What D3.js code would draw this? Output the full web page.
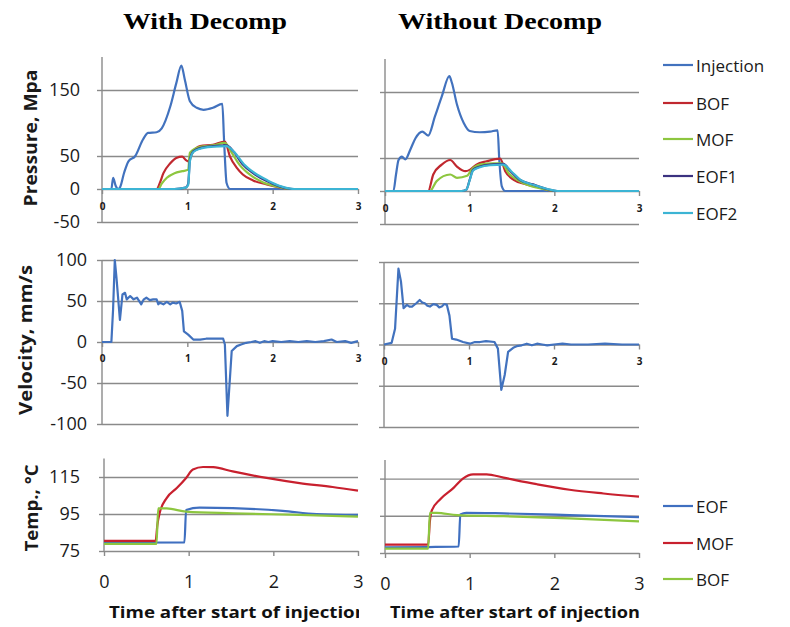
<!DOCTYPE html>
<html><head><meta charset="utf-8">
<script src="https://cdn.jsdelivr.net/npm/d3@7"></script>
<style>
body{margin:0;background:#fff;}
svg{display:block;}
</style></head><body>
<svg id="chart" width="790" height="627"></svg>
<script>
// ---------------- DATA ----------------
const timeTicks = [0, 1, 2, 3];
const pressureTicks = [-50, 50, 150];
const velocityTicks = [-100, -50, 50, 100];
const tempTicks = [95, 115];
const pressureLabels = ["150", "50", "-50"];
const velocityLabels = ["100", "50", "0", "-50", "-100"];
const tempLabels = ["115", "95", "75"];
const columnTitles = ["With Decomp", "Without Decomp"];
const pressureSeries = ["Injection", "BOF", "MOF", "EOF1", "EOF2"];
const tempSeries = ["EOF", "MOF", "BOF"];

// Pressure, With Decomp  [time, MPa]
const pWithInjection = [[0,0],[0.11,0],[0.13,17],[0.16,5],[0.19,0],[0.21,2],[0.26,25],[0.31,42],[0.39,50],[0.48,75],[0.54,85],[0.64,86],[0.70,92],[0.80,125],[0.87,160],[0.93,187],[0.97,166],[1.03,133],[1.11,123],[1.19,120],[1.30,123],[1.41,129],[1.43,75],[1.46,9],[1.50,0],[3,0]];
const pWithBOF = [[0,0],[0.64,0],[0.68,10],[0.72,24],[0.80,39],[0.87,47],[0.94,49],[0.98,44],[1.01,42],[1.04,50],[1.07,57],[1.15,65],[1.30,67],[1.44,72],[1.50,49],[1.58,32],[1.65,22],[1.77,13],[1.93,7],[2.08,2.5],[2.2,0],[3,0]];
const pWithMOF = [[0,0],[0.66,0],[0.70,8],[0.76,17],[0.85,24],[0.94,27],[1.01,29],[1.03,55],[1.15,64],[1.30,66],[1.44,70],[1.52,55],[1.61,37],[1.73,22],[1.89,10],[2.04,4],[2.2,0],[3,0]];
const pWithEOF1 = [[0,0],[0.85,0],[0.98,2],[1.01,8],[1.03,44],[1.07,57],[1.15,62],[1.30,65],[1.46,66],[1.54,57],[1.65,37],[1.77,24],[1.93,12],[2.08,4],[2.24,0],[3,0]];
const pWithEOF2 = [[0,0],[0.85,0],[0.98,2],[1.01,6],[1.03,42],[1.07,56],[1.15,61],[1.30,64],[1.46,65],[1.55,56],[1.66,38],[1.78,25],[1.94,13],[2.10,4],[2.26,0],[3,0]];

// Pressure, Without Decomp
const pWithoutInjection = [[0,0],[0.10,0],[0.13,25],[0.16,47],[0.20,52],[0.24,48],[0.30,63],[0.36,80],[0.44,90],[0.51,84],[0.59,113],[0.67,143],[0.76,174],[0.79,164],[0.85,131],[0.93,103],[1.00,91],[1.12,89],[1.24,90],[1.33,92],[1.35,47],[1.38,7],[1.42,0],[3,0]];
const pWithoutBOF = [[0,0],[0.51,0],[0.57,25],[0.67,40],[0.77,47],[0.85,37],[0.95,30],[1.00,32],[1.08,40],[1.20,45],[1.36,49],[1.42,30],[1.52,17],[1.67,10],[1.83,5],[1.99,0],[3,0]];
const pWithoutMOF = [[0,0],[0.53,0],[0.61,15],[0.77,25],[0.85,20],[0.97,23],[1.02,32],[1.12,40],[1.28,42],[1.38,42],[1.46,27],[1.57,16],[1.71,8],[1.87,3],[2.03,0],[3,0]];
const pWithoutEOF1 = [[0,0],[0.90,0],[0.96,2],[1.00,17],[1.04,32],[1.12,37],[1.24,40],[1.40,41],[1.48,30],[1.59,17],[1.75,10],[1.91,3],[2.03,0],[3,0]];
const pWithoutEOF2 = [[0,0],[0.90,0],[0.96,2],[1.00,16],[1.04,31],[1.12,36],[1.24,39],[1.40,40],[1.49,30],[1.60,17],[1.76,9],[1.92,3],[2.04,0],[3,0]];

// Velocity [time, mm/s]
const vWith = [[0,0],[0.11,0],[0.13,40],[0.15,100],[0.17,78],[0.21,27],[0.24,58],[0.27,60],[0.29,52],[0.33,56],[0.37,52],[0.41,54],[0.46,46],[0.49,52],[0.52,54],[0.56,51],[0.60,52],[0.64,52],[0.66,46],[0.68,48],[0.72,46],[0.76,49],[0.80,46],[0.83,48],[0.87,47],[0.91,49],[0.94,38],[0.96,13],[1.01,9],[1.07,3],[1.15,3],[1.22,4],[1.30,4],[1.42,4],[1.44,-3],[1.47,-90],[1.50,-43],[1.52,-11],[1.58,-5],[1.63,-3],[1.69,-1],[1.75,0],[1.80,1],[1.85,-1],[1.90,1],[1.95,0],[2.00,1],[2.10,0],[2.20,1],[2.30,0],[2.40,1],[2.50,0],[2.60,1],[2.69,3],[2.75,0],[2.85,1],[2.92,-1],[3,1]];
const vWithout = [[0,0],[0.09,2],[0.13,19],[0.17,92],[0.20,76],[0.23,44],[0.27,48],[0.30,46],[0.33,46],[0.38,50],[0.42,54],[0.45,51],[0.48,50],[0.51,47],[0.54,46],[0.58,49],[0.62,48],[0.65,45],[0.68,46],[0.71,49],[0.74,48],[0.77,35],[0.80,7],[0.85,6],[0.93,3],[1.01,1],[1.07,3],[1.13,3],[1.20,4],[1.30,3],[1.34,-5],[1.38,-55],[1.42,-37],[1.46,-9],[1.52,-4],[1.56,-2],[1.62,-1],[1.68,1],[1.74,-1],[1.80,1],[1.86,0],[1.92,-1],[2.00,0],[2.10,1],[2.20,0],[2.40,0],[2.60,1],[2.80,0],[3,0]];

// Temperature [time, °C]
const tWithEOF = [[0,79.5],[0.95,79.7],[0.97,97.2],[1.13,98.5],[1.52,98.2],[2.11,96.7],[2.51,95],[3,94.5]];
const tWithMOF = [[0,80.5],[0.61,80.5],[0.63,89],[0.66,96],[0.74,103.6],[0.86,109],[0.97,114.5],[1.05,119],[1.17,120.4],[1.29,120.3],[1.52,118],[1.92,114.5],[2.31,111.7],[2.70,109.6],[3,107.6]];
const tWithBOF = [[0,78.8],[0.62,78.8],[0.64,98],[0.74,98],[0.97,96.3],[1.52,95.4],[2.31,94.5],[3,93.6]];
const tWithoutEOF = [[0,78],[0.51,78.2],[0.87,78.5],[0.89,95.7],[0.96,96.6],[1.40,96.3],[2.18,95.4],[3,94.3]];
const tWithoutMOF = [[0,79.5],[0.51,79.5],[0.53,92],[0.55,97.5],[0.65,103.8],[0.81,110],[0.92,115],[1.04,117.3],[1.20,117.3],[1.40,115.5],[1.79,112],[2.18,109],[2.58,107],[3,105.3]];
const tWithoutBOF = [[0,77.3],[0.51,77.3],[0.53,96.6],[0.61,96.6],[0.85,95.4],[1.40,94.8],[2.18,93.6],[3,92]];

// ---------------- STYLE / LAYOUT ----------------
const C = {inj:"#4272be", bof:"#c0282f", mof:"#8dc63f", eof1:"#3b3280", eof2:"#3cb4d4", grid:"#8a8a8a"};
const pColors = [C.inj, C.bof, C.mof, C.eof1, C.eof2];
const tColors = ["#3f6fc0", "#c8202e", "#8dc63f"];
const FONT = "'Open Sans', 'Liberation Sans', sans-serif";

const svg = d3.select("#chart");

const panels = [
  {x:[102,358], dom:[-50,200], rng:[222,57], grid:pressureTicks, base:0, left:true, lblPad:17, xFont:10, xPad:9,
   series:[pWithInjection,pWithBOF,pWithMOF,pWithEOF1,pWithEOF2], colors:pColors, curve:d3.curveMonotoneX},
  {x:[385,639], dom:[-50,200], rng:[224,59], grid:pressureTicks, base:0, left:false, xFont:10, xPad:9,
   series:[pWithoutInjection,pWithoutBOF,pWithoutMOF,pWithoutEOF1,pWithoutEOF2], colors:pColors, curve:d3.curveMonotoneX},
  {x:[102,358], dom:[-100,100], rng:[424,260], grid:velocityTicks, base:0, left:true, lblPad:10, xFont:10, xPad:8,
   series:[vWith], colors:[C.inj], curve:d3.curveLinear},
  {x:[384,639], dom:[-100,100], rng:[427,262], grid:velocityTicks, base:0, left:false, xFont:10, xPad:8,
   series:[vWithout], colors:[C.inj], curve:d3.curveLinear},
  {x:[104,358], dom:[75,125], rng:[551,458.5], grid:tempTicks, base:75, left:true, lblPad:19, xFont:18, xPad:19,
   series:[tWithEOF,tWithMOF,tWithBOF], colors:tColors, curve:d3.curveMonotoneX},
  {x:[385,639], dom:[75,125], rng:[553,460], grid:tempTicks, base:75, left:false, xFont:18, xPad:19,
   series:[tWithoutEOF,tWithoutMOF,tWithoutBOF], colors:tColors, curve:d3.curveMonotoneX}
];

panels.forEach((p, i) => {
  const x = d3.scaleLinear().domain([0,3]).range(p.x);
  const y = d3.scaleLinear().domain(p.dom).range(p.rng);
  const g = svg.append("g");
  const w = p.x[1] - p.x[0];

  // horizontal gridlines
  const gridAxis = d3.axisLeft(y).tickValues(p.grid).tickSize(-w).tickFormat("");
  const gg = g.append("g").attr("transform", `translate(${p.x[0]},0)`).call(gridAxis);
  gg.select(".domain").remove();
  gg.selectAll("line").attr("stroke", C.grid).attr("stroke-width", 1.4);

  // y axis (line + outward ticks, labels only on left column)
  const allY = p.grid.concat([p.base]);
  const yAxis = d3.axisLeft(y).tickValues(allY).tickSizeInner(5).tickSizeOuter(0)
      .tickPadding(p.left ? p.lblPad : 0)
      .tickFormat(p.left ? (d => String(d)) : "");
  const ya = g.append("g").attr("transform", `translate(${p.x[0]},0)`).call(yAxis);
  ya.select(".domain").attr("stroke", C.grid).attr("stroke-width", 1.4)
    .attr("d", `M0,${p.rng[0]}V${p.rng[1]}`);
  ya.selectAll("line").attr("stroke", C.grid).attr("stroke-width", 1.4);
  ya.selectAll("text").attr("font-family", FONT).attr("font-size", 18).attr("fill", "#1a1a1a");

  // x axis at base value
  const xAxis = d3.axisBottom(x).tickValues(timeTicks).tickSizeInner(5).tickSizeOuter(0)
      .tickPadding(p.xPad).tickFormat(d3.format("d"));
  const xa = g.append("g").attr("transform", `translate(0,${y(p.base)})`).call(xAxis);
  xa.select(".domain").attr("stroke", C.grid).attr("stroke-width", 1.6);
  xa.selectAll("line").attr("stroke", C.grid).attr("stroke-width", 1.4);
  xa.selectAll("text").attr("font-family", FONT).attr("font-size", p.xFont)
    .attr("font-weight", p.xFont < 12 ? "bold" : "normal").attr("fill", "#1a1a1a");

  // data lines
  const line = d3.line().x(d => x(d[0])).y(d => y(d[1])).curve(p.curve);
  p.series.forEach((s, k) => {
    g.append("path").datum(s).attr("d", line).attr("fill", "none")
      .attr("stroke", p.colors[k]).attr("stroke-width", 2.2).attr("stroke-linejoin", "round");
  });
});

// column titles
[[205, columnTitles[0], 164], [500, columnTitles[1], 204]].forEach(([cx, t, len]) => {
  svg.append("text").attr("x", cx).attr("y", 29).attr("text-anchor", "middle")
    .attr("font-family", "'Liberation Serif', 'Times New Roman', serif").attr("font-weight", "bold")
    .attr("font-size", 24).attr("textLength", len).attr("lengthAdjust", "spacingAndGlyphs").text(t);
});

// y titles
[["Pressure, Mpa", 30, 138, 137], ["Velocity, mm/s", 25, 340, 150], ["Temp., °C", 31, 508, 87]].forEach(([t, cx, cy, len]) => {
  svg.append("text").attr("transform", `translate(${cx},${cy}) rotate(-90)`)
    .attr("text-anchor", "middle").attr("dominant-baseline", "central")
    .attr("font-family", FONT).attr("font-weight", "bold").attr("font-size", 17)
    .attr("textLength", len).attr("lengthAdjust", "spacingAndGlyphs").attr("fill", "#1a1a1a").text(t);
});

// x titles
svg.append("clipPath").attr("id", "clipL").append("rect").attr("x", 0).attr("y", 590).attr("width", 359).attr("height", 37);
[[109, "url(#clipL)", 258], [390, null, 250]].forEach(([x0, clip, len]) => {
  const t = svg.append("text").attr("x", x0).attr("y", 618)
    .attr("font-family", FONT).attr("font-weight", "bold").attr("font-size", 16)
    .attr("textLength", len).attr("lengthAdjust", "spacingAndGlyphs").attr("fill", "#111")
    .text("Time after start of injection");
  if (clip) t.attr("clip-path", clip);
});

// legends
function legend(names, colors, ys) {
  names.forEach((n, i) => {
    svg.append("line").attr("x1", 663).attr("x2", 693).attr("y1", ys[i]).attr("y2", ys[i])
      .attr("stroke", colors[i]).attr("stroke-width", 2.2);
    svg.append("text").attr("x", 696).attr("y", ys[i]).attr("dominant-baseline", "central")
      .attr("font-family", FONT).attr("font-size", 17).attr("fill", "#1a1a1a").text(n);
  });
}
legend(pressureSeries, pColors, [65, 103, 139, 176, 213]);
legend(tempSeries, tColors, [506, 543, 579]);
</script>
</body></html>
